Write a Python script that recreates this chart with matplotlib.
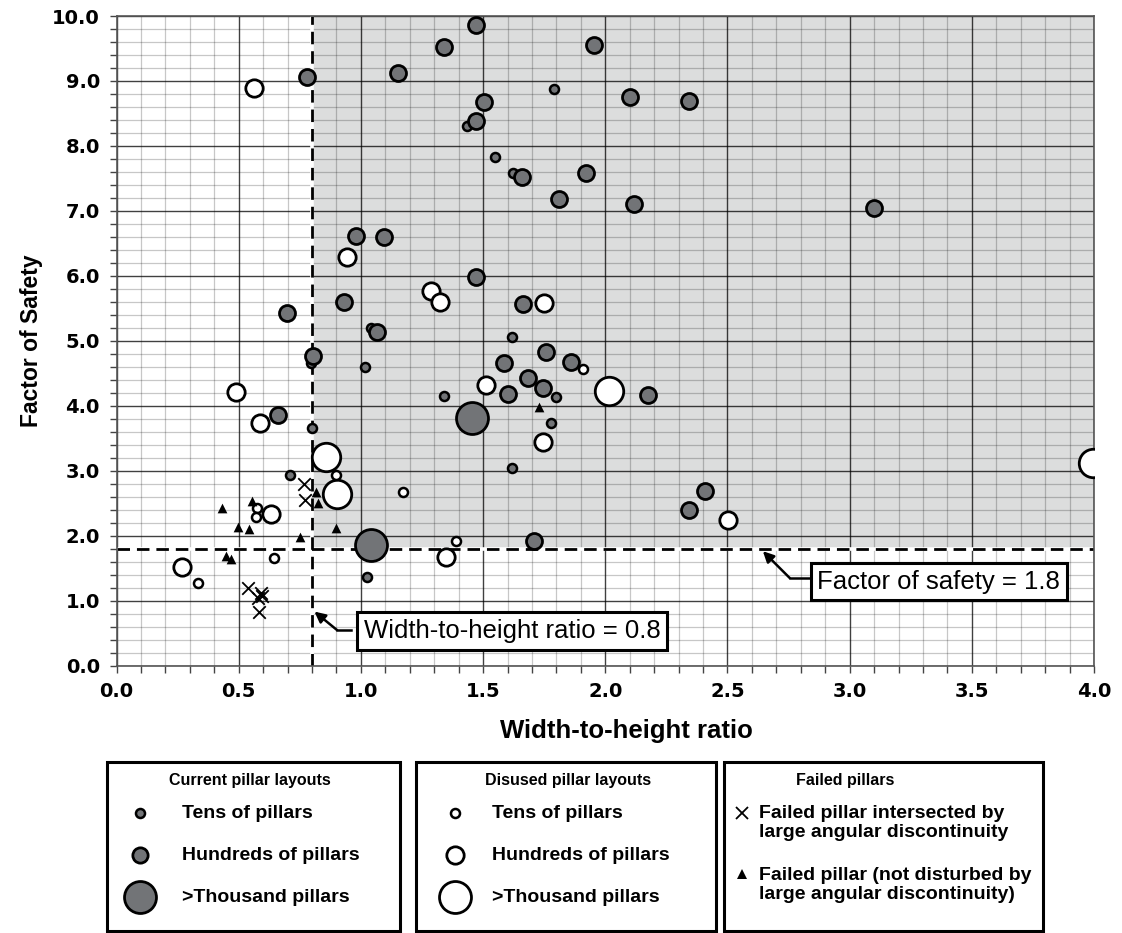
import matplotlib
matplotlib.use('Agg')
import matplotlib.pyplot as plt
import numpy as np
from matplotlib.patches import Rectangle
from matplotlib.lines import Line2D

plt.rcParams['font.family'] = ['Liberation Sans', 'DejaVu Sans']

# current pillar layouts
cur_tens_x = [1.79, 1.434, 1.549, 1.623, 1.04, 1.62, 1.017, 0.796, 1.34, 1.798, 1.78, 0.80, 0.71, 1.62, 1.025]
cur_tens_y = [8.87, 8.31, 7.83, 7.58, 5.19, 5.06, 4.59, 4.66, 4.15, 4.13, 3.73, 3.66, 2.93, 3.04, 1.36]
cur_hund_x = [1.471, 1.34, 1.954, 0.78, 1.152, 1.504, 1.471, 2.10, 2.342, 1.659, 1.92, 1.811, 2.117,
              3.10, 0.98, 1.095, 1.471, 0.931, 1.664, 0.698, 1.066, 0.804, 1.758, 1.586, 1.86,
              1.683, 1.746, 1.602, 2.175, 0.66, 2.342, 2.408, 1.708]
cur_hund_y = [9.86, 9.52, 9.56, 9.06, 9.12, 8.68, 8.38, 8.75, 8.69, 7.52, 7.59, 7.19, 7.10,
              7.04, 6.61, 6.59, 5.98, 5.59, 5.57, 5.42, 5.13, 4.76, 4.83, 4.65, 4.67,
              4.42, 4.28, 4.18, 4.16, 3.85, 2.40, 2.69, 1.92]
cur_thou_x = [1.455, 1.041]
cur_thou_y = [3.81, 1.85]

# disused pillar layouts
dis_tens_x = [1.172, 0.90, 1.908, 1.389, 0.333, 0.575, 0.572, 0.645]
dis_tens_y = [2.67, 2.93, 4.56, 1.92, 1.27, 2.42, 2.29, 1.65]
dis_hund_x = [0.563, 0.943, 1.287, 1.324, 1.749, 0.49, 1.512, 0.587, 1.745, 0.632, 1.348, 0.268, 2.502]
dis_hund_y = [8.89, 6.29, 5.77, 5.59, 5.58, 4.21, 4.32, 3.73, 3.44, 2.33, 1.67, 1.52, 2.24]
dis_thou_x = [0.857, 0.902, 2.015, 3.995]
dis_thou_y = [3.21, 2.64, 4.23, 3.12]

# failed pillars
fail_x_x = [0.767, 0.771, 0.54, 0.59, 0.58, 0.595, 0.585]
fail_x_y = [2.79, 2.55, 1.19, 1.12, 1.04, 1.07, 0.82]
fail_t_x = [0.43, 0.555, 0.496, 0.542, 0.751, 0.448, 0.468, 0.817, 0.823, 0.90, 1.728]
fail_t_y = [2.43, 2.54, 2.13, 2.10, 1.98, 1.69, 1.64, 2.67, 2.50, 2.12, 3.98]

W, H = 1122, 933
GRAY = '#727477'
SHADE = '#dcdddd'


def fx(px):
    return px / W


def fy(py):
    return 1 - py / H


fig = plt.figure(figsize=(11.22, 9.33), dpi=100)
ax = fig.add_axes([fx(116.5), fy(665.5), (1094 - 116.5) / W, (665.5 - 16) / H])

ax.set_xlim(0, 4)
ax.set_ylim(0, 10)

# shaded safe zone
ax.add_patch(Rectangle((0.8, 1.8), 3.2, 8.2, facecolor=SHADE, edgecolor='none', zorder=0))

ax.set_xticks(np.arange(0, 4.01, 0.5))
ax.set_xticks(np.arange(0, 4.01, 0.1), minor=True)
ax.set_yticks(np.arange(0, 10.01, 1.0))
ax.set_yticks(np.arange(0, 10.01, 0.2), minor=True)
ax.set_xticklabels(['%.1f' % v for v in np.arange(0, 4.01, 0.5)])
ax.set_yticklabels(['%.1f' % v for v in np.arange(0, 10.01, 1.0)])
ax.set_axisbelow(True)
ax.grid(which='minor', color='black', alpha=0.22, lw=0.9)
ax.grid(which='major', color='black', alpha=0.75, lw=1.0)
ax.tick_params(which='both', direction='out', length=5, width=1, color='#444444')
ax.tick_params(axis='both', which='major', labelsize=14, pad=7)
for lab in ax.get_xticklabels() + ax.get_yticklabels():
    lab.set_fontweight('bold')
    lab.set_fontfamily('DejaVu Sans')
for sp in ax.spines.values():
    sp.set_color('#555555')
    sp.set_linewidth(1.2)

ax.set_xlabel('Width-to-height ratio', fontsize=18.5, fontweight='bold')
ax.xaxis.set_label_coords(0.522, -0.082)
ax.set_ylabel('Factor of Safety', fontsize=16.5, fontweight='bold')
ax.yaxis.set_label_coords(-0.075, 0.5)

# threshold lines
ax.plot([0.8, 0.8], [0, 10], color='white', lw=2.6, zorder=2)
ax.plot([0.8, 0.8], [0, 10], color='black', lw=2, dashes=(4.5, 2.5), zorder=2.1)
ax.plot([0, 4], [1.8, 1.8], color='white', lw=2.6, zorder=2)
ax.plot([0, 4], [1.8, 1.8], color='black', lw=2, dashes=(4.5, 2.5), zorder=2.1)

# data points
ax.scatter(cur_thou_x, cur_thou_y, s=23 ** 2, c=GRAY, edgecolors='black', linewidths=2, zorder=3)
ax.scatter(dis_thou_x, dis_thou_y, s=20.5 ** 2, c='white', edgecolors='black', linewidths=2, zorder=3)
ax.scatter(cur_tens_x, cur_tens_y, s=6.5 ** 2, c=GRAY, edgecolors='black', linewidths=1.8, zorder=3)
ax.scatter(cur_hund_x, cur_hund_y, s=11.5 ** 2, c=GRAY, edgecolors='black', linewidths=2, zorder=3)
ax.scatter(dis_hund_x, dis_hund_y, s=12.5 ** 2, c='white', edgecolors='black', linewidths=2, zorder=3)
ax.scatter(dis_tens_x, dis_tens_y, s=6.5 ** 2, c='white', edgecolors='black', linewidths=1.8, zorder=3)
ax.scatter(fail_x_x, fail_x_y, s=9 ** 2, c='black', marker='x', linewidths=1.3, zorder=3)
ax.scatter(fail_t_x, fail_t_y, s=7 ** 2, c='black', marker='^', linewidths=0, zorder=3)

# callouts
box = dict(boxstyle='square,pad=0.26', fc='white', ec='black', lw=2.2)
ax.text(1.618, 0.531, 'Width-to-height ratio = 0.8', fontsize=18.5, ha='center', va='center',
        bbox=box, zorder=6)
ax.plot([0.96, 0.902], [0.547, 0.547], color='black', lw=1.8, zorder=5)
ax.annotate('', xy=(0.81, 0.83), xytext=(0.902, 0.547),
            arrowprops=dict(arrowstyle='-|>', lw=1.8, color='black', mutation_scale=16,
                            shrinkA=0, shrinkB=0), zorder=5)

ax.text(3.365, 1.293, 'Factor of safety = 1.8', fontsize=18.5, ha='center', va='center',
        bbox=box, zorder=6)
ax.plot([2.837, 2.755], [1.347, 1.347], color='black', lw=1.8, zorder=5)
ax.annotate('', xy=(2.645, 1.76), xytext=(2.755, 1.347),
            arrowprops=dict(arrowstyle='-|>', lw=1.8, color='black', mutation_scale=16,
                            shrinkA=0, shrinkB=0), zorder=5)

# legend boxes
for x0, x1 in [(107, 400), (416, 716), (724, 1043)]:
    fig.add_artist(Rectangle((fx(x0), fy(931)), (x1 - x0) / W, (931 - 762) / H,
                             transform=fig.transFigure, fill=False, ec='black', lw=2.2))

tfont = dict(fontsize=11.5, fontweight='bold', transform=fig.transFigure, va='center')
lfont = dict(fontsize=14, fontweight='bold', transform=fig.transFigure, va='center')
fig.text(fx(250), fy(780), 'Current pillar layouts', ha='center', **tfont)
fig.text(fx(568), fy(780), 'Disused pillar layouts', ha='center', **tfont)
fig.text(fx(845), fy(780), 'Failed pillars', ha='center', **tfont)


def leg_marker(px, py, **kw):
    fig.add_artist(Line2D([fx(px)], [fy(py)], transform=fig.transFigure, ls='none', **kw))


leg_marker(140, 813, marker='o', ms=6.5, mfc=GRAY, mec='black', mew=1.8)
leg_marker(140, 855, marker='o', ms=11, mfc=GRAY, mec='black', mew=2)
leg_marker(140, 897, marker='o', ms=23, mfc=GRAY, mec='black', mew=2)
fig.text(fx(182), fy(813), 'Tens of pillars', ha='left', **lfont)
fig.text(fx(182), fy(856), 'Hundreds of pillars', ha='left', **lfont)
fig.text(fx(182), fy(897), '>Thousand pillars', ha='left', **lfont)

leg_marker(455, 813, marker='o', ms=6.5, mfc='white', mec='black', mew=1.8)
leg_marker(455, 855, marker='o', ms=12.5, mfc='white', mec='black', mew=2)
leg_marker(455, 897, marker='o', ms=23, mfc='white', mec='black', mew=2)
fig.text(fx(492), fy(813), 'Tens of pillars', ha='left', **lfont)
fig.text(fx(492), fy(856), 'Hundreds of pillars', ha='left', **lfont)
fig.text(fx(492), fy(897), '>Thousand pillars', ha='left', **lfont)

leg_marker(742, 813, marker='x', ms=9, mec='black', mew=1.3)
leg_marker(742, 874, marker='^', ms=7, mfc='black', mec='black', mew=0)
fig.text(fx(759), fy(823), 'Failed pillar intersected by\nlarge angular discontinuity',
         ha='left', linespacing=1.2, **lfont)
fig.text(fx(759), fy(885), 'Failed pillar (not disturbed by\nlarge angular discontinuity)',
         ha='left', linespacing=1.2, **lfont)

fig.savefig('out.png', dpi=100)
